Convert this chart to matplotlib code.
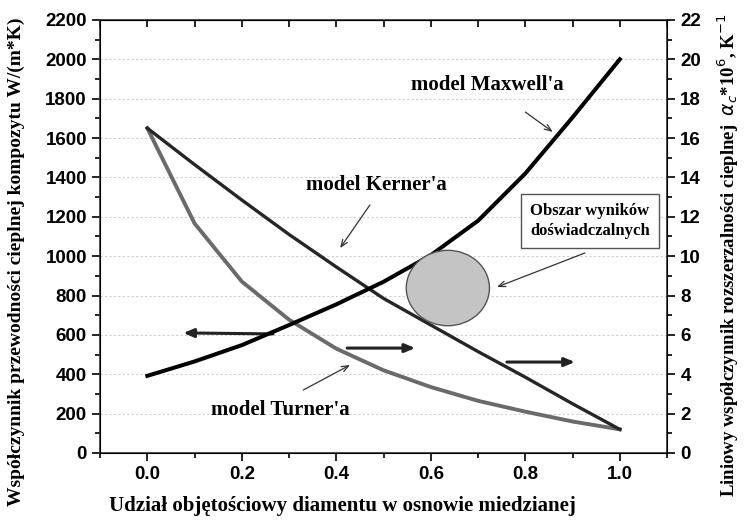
import numpy as np
import matplotlib
matplotlib.use("Agg")
import matplotlib.pyplot as plt
from matplotlib.patches import Ellipse
from matplotlib.ticker import MultipleLocator

# udział objętościowy diamentu
udzial = [0.0, 0.1, 0.2, 0.3, 0.4, 0.5, 0.6, 0.7, 0.8, 0.9, 1.0]

# modele przewodności cieplnej, W/(m*K)
maxwell = [392, 465, 548, 650, 755, 870, 1005, 1180, 1420, 1705, 2000]
kerner = [1650, 1465, 1285, 1110, 945, 785, 650, 515, 385, 250, 120]
turner = [1650, 1166, 871, 677, 530, 420, 335, 265, 210, 160, 120]

# obszar wyników doświadczalnych (środek, szerokość, wysokość)
obszar_xy = (0.636, 838)
obszar_w = 0.176
obszar_h = 383

serif = "Liberation Serif"
sans = "Liberation Sans"

fig = plt.figure(figsize=(7.47, 5.24), dpi=100)
ax = fig.add_axes([0.134, 0.1355, 0.759, 0.8265])

ax.plot(udzial, turner, color="#6a6a6a", lw=2.8, zorder=3)
ax.plot(udzial, kerner, color="#262626", lw=2.4, zorder=4)
ax.plot(udzial, maxwell, color="black", lw=2.9, zorder=5)

ax.add_patch(Ellipse(obszar_xy, obszar_w, obszar_h, facecolor="#c4c4c4",
                     edgecolor="#555555", lw=1.0, zorder=6))

ax.set_xlim(-0.1, 1.1)
ax.set_ylim(0, 2200)
ax.xaxis.set_major_locator(MultipleLocator(0.2))
ax.xaxis.set_minor_locator(MultipleLocator(0.1))
ax.yaxis.set_major_locator(MultipleLocator(200))
ax.yaxis.set_minor_locator(MultipleLocator(100))
ax.grid(axis="y", which="major", color="#cfcfcf", ls=(0, (2, 2)), lw=0.8)
ax.set_axisbelow(True)

ax.tick_params(axis="both", which="major", direction="out", length=6, width=1.2,
               labelsize=13.5)
ax.tick_params(axis="both", which="minor", direction="out", length=3.5, width=1.2)
for lab in ax.get_xticklabels() + ax.get_yticklabels():
    lab.set_fontfamily(sans)
    lab.set_fontweight("bold")
for sp in ax.spines.values():
    sp.set_linewidth(1.2)
    sp.set_color("#333333")

# górne ticki do środka
top = ax.secondary_xaxis("top")
top.xaxis.set_major_locator(MultipleLocator(0.1))
top.tick_params(direction="in", length=5, width=1.2, labeltop=False)

ax2 = ax.twinx()
ax2.set_ylim(0, 22)
ax2.yaxis.set_major_locator(MultipleLocator(2))
ax2.yaxis.set_minor_locator(MultipleLocator(1))
ax2.tick_params(axis="y", which="major", direction="out", length=6, width=1.2,
                labelsize=13.5)
ax2.tick_params(axis="y", which="minor", direction="out", length=3.5, width=1.2)
for lab in ax2.get_yticklabels():
    lab.set_fontfamily(sans)
    lab.set_fontweight("bold")

ax.set_xlabel("Udział objętościowy diamentu w osnowie miedzianej",
              fontfamily=serif, fontweight="bold", fontsize=15)
ax.xaxis.set_label_coords(0.427, -0.1)
ax.set_ylabel("Współczynnik przewodności cieplnej kompozytu W/(m*K)",
              fontfamily=serif, fontweight="bold", fontsize=14)
ax.yaxis.set_label_coords(-0.132, 0.441)
ax2.set_ylabel(r"Liniowy współczynnik rozszerzalności cieplnej  $\alpha_c$*10$^6$, K$^{-1}$",
               fontfamily=serif, fontweight="bold", fontsize=13.5)
ax2.yaxis.set_label_coords(1.086, 0.457)

# opisy modeli
txt = dict(fontfamily=serif, fontweight="bold", fontsize=15, ha="center",
           va="center", zorder=8)
ax.text(0.72, 1870, "model Maxwell'a", **txt)
ax.text(0.484, 1361, "model Kerner'a", **txt)
ax.text(0.281, 218, "model Turner'a", **txt)
ax.text(0.937, 1178, "Obszar wyników\ndoświadczalnych", fontfamily=serif,
        fontweight="bold", fontsize=12, ha="center", va="center", zorder=8,
        linespacing=1.3,
        bbox=dict(boxstyle="square,pad=0.55", fc="white", ec="#555555", lw=1.0))

thin = dict(arrowstyle="->,head_length=0.5,head_width=0.2", color="#333333",
            lw=0.9, shrinkA=0, shrinkB=0)
ax.annotate("", xy=(0.858, 1631), xytext=(0.80, 1732), arrowprops=thin)
ax.annotate("", xy=(0.408, 1041), xytext=(0.471, 1260), arrowprops=thin)
ax.annotate("", xy=(0.429, 447), xytext=(0.33, 320), arrowprops=thin)
ax.annotate("", xy=(0.74, 843), xytext=(0.926, 1016), arrowprops=thin)

# strzałki wskazujące oś
fat = dict(arrowstyle="-|>,head_length=0.6,head_width=0.25", color="#222222",
           lw=2.2, shrinkA=0, shrinkB=0)
ax.annotate("", xy=(0.076, 610), xytext=(0.266, 605), arrowprops=fat)
ax.annotate("", xy=(0.567, 533), xytext=(0.423, 533), arrowprops=fat)
ax.annotate("", xy=(0.905, 462), xytext=(0.761, 462), arrowprops=fat)

fig.savefig("out.png", dpi=100)
